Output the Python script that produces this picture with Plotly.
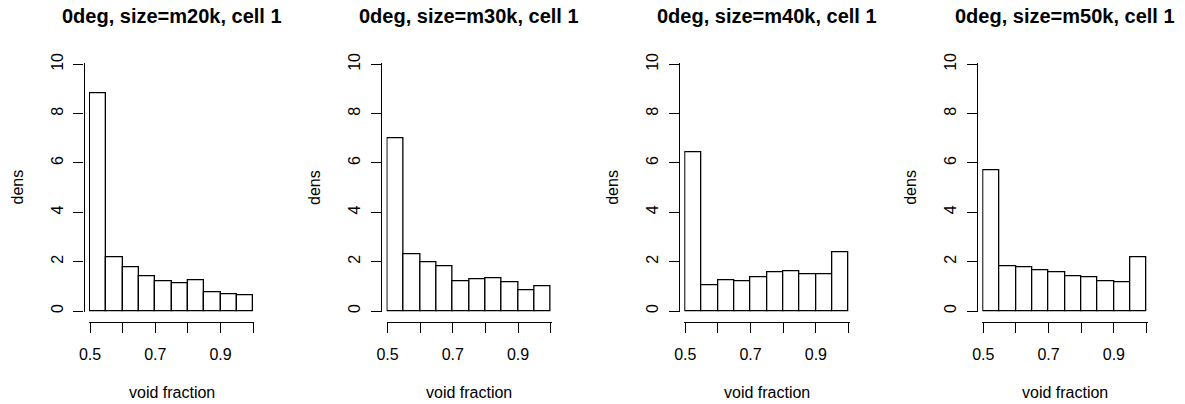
import plotly.graph_objects as go

# ---------------- data ----------------
titles = ["0deg, size=m20k, cell 1", "0deg, size=m30k, cell 1",
          "0deg, size=m40k, cell 1", "0deg, size=m50k, cell 1"]
bin_edges = [0.50, 0.55, 0.60, 0.65, 0.70, 0.75, 0.80, 0.85, 0.90, 0.95, 1.00]
dens_m20k = [8.82, 2.18, 1.76, 1.42, 1.20, 1.14, 1.24, 0.77, 0.69, 0.64]
dens_m30k = [7.00, 2.30, 1.97, 1.80, 1.19, 1.28, 1.31, 1.16, 0.85, 0.99]
dens_m40k = [6.45, 1.04, 1.26, 1.22, 1.38, 1.55, 1.59, 1.49, 1.50, 2.39]
dens_m50k = [5.72, 1.80, 1.77, 1.64, 1.55, 1.42, 1.38, 1.20, 1.15, 2.16]
x_tickvals = [0.5, 0.6, 0.7, 0.8, 0.9, 1.0]
x_ticktext = ["0.5", "", "0.7", "", "0.9", ""]
y_tickvals = [0, 2, 4, 6, 8, 10]
y_ticktext = ["0", "2", "4", "6", "8", "10"]
x_label = "void fraction"
y_label = "dens"

panels = [dens_m20k, dens_m30k, dens_m40k, dens_m50k]

# ---------------- layout geometry (pixels) ----------------
W, H = 1185, 404
X05 = [90.0, 387.5, 685.3, 983.3]   # pixel x where void fraction = 0.5
PXU_X = 326.4                        # pixels per unit on x
Y0_PX, Y10_PX = 311.0, 64.3          # pixel y of dens 0 and 10
PXU_Y = (Y0_PX - Y10_PX) / 10.0
XLINE_PX = 321.7                     # pixel y of x axis line
YOFF_PX = 6.5                        # y axis line offset left of x=0.5
FONT = "Liberation Sans, Arial, Helvetica, sans-serif"
LW = 1.3

centers = [(bin_edges[i] + bin_edges[i + 1]) / 2 for i in range(len(bin_edges) - 1)]
widths = [bin_edges[i + 1] - bin_edges[i] for i in range(len(bin_edges) - 1)]

fig = go.Figure()
annotations = []
xmin, xmax = bin_edges[0], bin_edges[-1]
ymin, ymax = y_tickvals[0], y_tickvals[-1]

for i, dens in enumerate(panels):
    k = "" if i == 0 else str(i + 1)
    fig.add_trace(go.Bar(
        x=centers, y=dens, width=widths,
        marker=dict(color="white", line=dict(color="black", width=LW)),
        xaxis="x" + k, yaxis="y" + k, showlegend=False, hoverinfo="x+y",
    ))
    x0 = X05[i]
    xw = (xmax - xmin) * PXU_X
    ex = 1.0 / PXU_X
    ey = 1.0 / PXU_Y
    xd = [(x0 - 1) / W, (x0 + xw + 1) / W]
    yd = [1 - (Y0_PX + 1) / H, 1 - (Y10_PX - 1) / H]
    axis_common = dict(showgrid=False, zeroline=False, showline=True,
                       linecolor="black", linewidth=LW, ticks="outside",
                       ticklen=10, tickwidth=LW, tickcolor="black",
                       tickfont=dict(family=FONT, size=16, color="black"),
                       fixedrange=True, automargin=False)
    fig.layout["xaxis" + k] = dict(
        domain=xd, range=[xmin - ex, xmax + ex], anchor="free",
        position=1 - XLINE_PX / H, tickmode="array",
        tickvals=x_tickvals, ticktext=x_ticktext, ticklabelstandoff=8,
        **axis_common)
    fig.layout["yaxis" + k] = dict(
        domain=yd, range=[ymin - ey, ymax + ey], anchor="free",
        position=(x0 - YOFF_PX) / W, tickmode="array",
        tickvals=y_tickvals, ticktext=y_ticktext, tickangle=-90,
        ticklabelstandoff=4, **axis_common)

    cx = (x0 + 0.25 * PXU_X) / W
    annotations.append(dict(text="<b>%s</b>" % titles[i], x=cx, y=1 - 16 / H,
                            xref="paper", yref="paper", showarrow=False,
                            xanchor="center", yanchor="middle",
                            font=dict(family=FONT, size=20, color="black")))
    annotations.append(dict(text=x_label, x=cx, y=1 - 392 / H,
                            xref="paper", yref="paper", showarrow=False,
                            xanchor="center", yanchor="middle",
                            font=dict(family=FONT, size=16, color="black")))
    annotations.append(dict(text=y_label, x=(x0 - 73) / W, y=1 - 187.5 / H,
                            xref="paper", yref="paper", showarrow=False,
                            xanchor="center", yanchor="middle", textangle=-90,
                            font=dict(family=FONT, size=16, color="black")))

fig.update_layout(template="none", width=W, height=H,
                  margin=dict(l=0, r=0, t=0, b=0, autoexpand=False),
                  plot_bgcolor="white", paper_bgcolor="white",
                  bargap=0, annotations=annotations,
                  font=dict(family=FONT, color="black"))

fig.write_html("out.html", config={"displayModeBar": False})
